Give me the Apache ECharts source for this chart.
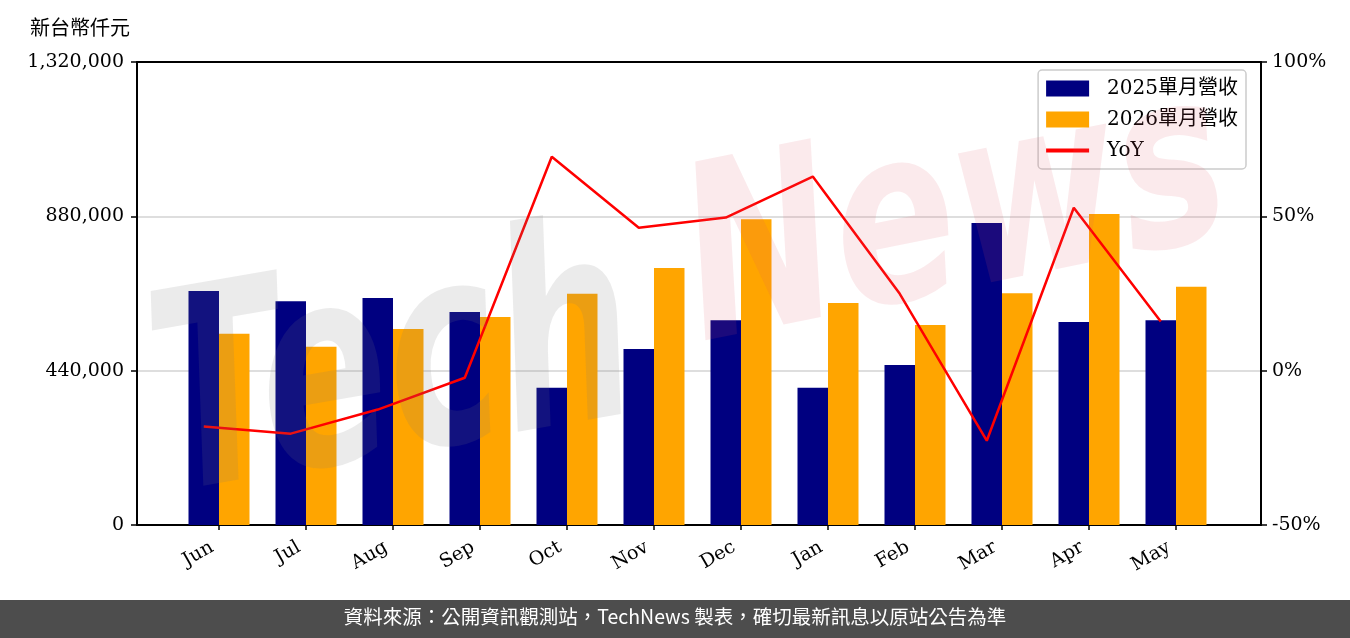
<!DOCTYPE html>
<html lang="zh-TW">
<head>
<meta charset="utf-8">
<script src="https://cdn.jsdelivr.net/npm/echarts@6/dist/echarts.min.js"></script>
<style>
html,body{margin:0;padding:0;background:#fff;}
#chart{width:1350px;height:638px;}
</style>
</head>
<body>
<div id="chart"></div>
<script>
const months = ['Jun','Jul','Aug','Sep','Oct','Nov','Dec','Jan','Feb','Mar','Apr','May'];
const rev2025 = [667000, 638000, 647000, 607000, 391000, 502000, 584000, 391000, 456000, 861000, 579000, 584000];
const rev2026 = [545000, 508000, 559000, 593000, 659000, 733000, 872000, 633000, 570000, 661000, 887000, 679000];
const yoy = [-18.1, -20.4, -12.6, -2.3, 69.3, 46.3, 49.6, 62.9, 24.9, -22.7, 52.8, 15.9];
const leftTicks = [0, 440000, 880000, 1320000];
const rightTicks = [-50, 0, 50, 100];
const seriesNames = ['2025單月營收', '2026單月營收', 'YoY'];
const unitLabel = '新台幣仟元';
const sourceText = '資料來源：公開資訊觀測站，TechNews 製表，確切最新訊息以原站公告為準';
const watermark = ['Tech', 'News'];

const serif = "'DejaVu Serif', 'Liberation Serif', 'Noto Sans CJK TC', serif";
const cjk = "'Noto Sans CJK TC', 'Noto Sans', sans-serif";
const barW = 0.35;
const idx = months.map((m, i) => i);

const chart = echarts.init(document.getElementById('chart'));
chart.setOption({
  animation: false,
  backgroundColor: '#fff',
  grid: { left: 137, right: 89, top: 62, bottom: 113 },
  legend: {
    right: 104, top: 70, orient: 'vertical',
    itemWidth: 43, itemHeight: 16, itemGap: 10,
    padding: [8, 8, 8, 8],
    borderColor: '#cccccc', borderWidth: 1.5, borderRadius: 4,
    backgroundColor: 'rgba(255,255,255,0.8)',
    textStyle: { fontFamily: serif, fontSize: 20, lineHeight: 21, color: '#000', padding: [0, 0, 0, 13] },
    data: [
      { name: seriesNames[0], icon: 'rect' },
      { name: seriesNames[1], icon: 'rect' },
      { name: seriesNames[2], icon: 'path://M0,0H43V4H0Z' }
    ]
  },
  graphic: [
    { type: 'text', left: 30, top: 17, z: 10, style: { text: unitLabel, font: "20px " + cjk, fill: '#000' } },
    { type: 'text', x: 135, y: 285, rotation: 0.17, scaleY: 1.45, z: 100, silent: true,
      style: { text: watermark[0], font: "italic bold 190px 'DejaVu Sans'", fill: 'rgba(120,120,120,0.15)' } },
    { type: 'text', x: 665, y: 160, rotation: 0.2, scaleY: 1.35, z: 100, silent: true,
      style: { text: watermark[1], font: "italic bold 180px 'DejaVu Sans'", fill: 'rgba(220,80,100,0.12)' } },
    { type: 'rect', left: 0, top: 600, z: 10, shape: { width: 1350, height: 38 }, style: { fill: '#4d4d4d' } },
    { type: 'text', left: 'center', top: 607, z: 11, style: { text: sourceText, font: "19.5px " + cjk, fill: '#fff' } }
  ],
  xAxis: [
    {
      type: 'value', min: -0.9425, max: 11.977, position: 'bottom',
      axisLine: { show: true, onZero: false, lineStyle: { color: '#000', width: 2 } },
      axisTick: { show: true, length: 5, lineStyle: { color: '#000', width: 1.5 }, customValues: idx },
      axisLabel: { customValues: idx, rotate: 30, margin: 17, padding: [0, 8, 0, 0], fontFamily: serif, fontSize: 19, color: '#000',
        formatter: v => months[Math.round(v)] },
      splitLine: { show: false }
    },
    {
      type: 'value', min: -0.9425, max: 11.977, position: 'top',
      axisLine: { show: true, onZero: false, lineStyle: { color: '#000', width: 2 } },
      axisTick: { show: false }, axisLabel: { show: false }, splitLine: { show: false }
    }
  ],
  yAxis: [
    {
      type: 'value', min: 0, max: 1320000, interval: 440000, position: 'left',
      axisLine: { show: true, onZero: false, lineStyle: { color: '#000', width: 2 } },
      axisTick: { show: true, length: 6, lineStyle: { color: '#000', width: 1.5 } },
      axisLabel: { fontFamily: serif, fontSize: 19, color: '#000', margin: 13,
        formatter: v => v.toLocaleString('en-US') },
      splitLine: { show: true, lineStyle: { color: '#d3d3d3', width: 1.5 } }
    },
    {
      type: 'value', min: -50, max: 100, interval: 50, position: 'right',
      axisLine: { show: true, onZero: false, lineStyle: { color: '#000', width: 2 } },
      axisTick: { show: true, length: 6, lineStyle: { color: '#000', width: 1.5 } },
      axisLabel: { fontFamily: serif, fontSize: 19, color: '#000', margin: 11, formatter: v => v + '%' },
      splitLine: { show: false }
    }
  ],
  series: [
    { name: seriesNames[0], type: 'bar', barWidth: 30.5, barGap: '0%', itemStyle: { color: '#000080' },
      data: rev2025.map((v, i) => [i, v]) },
    { name: seriesNames[1], type: 'bar', barWidth: 30.5, barGap: '0%', itemStyle: { color: '#ffa500' },
      data: rev2026.map((v, i) => [i, v]) },
    { name: seriesNames[2], type: 'line', yAxisIndex: 1, symbol: 'none', z: 5,
      lineStyle: { color: '#ff0000', width: 2.5 }, itemStyle: { color: '#ff0000' },
      data: yoy.map((v, i) => [i - barW / 2, v]) }
  ]
});
</script>
</body>
</html>
